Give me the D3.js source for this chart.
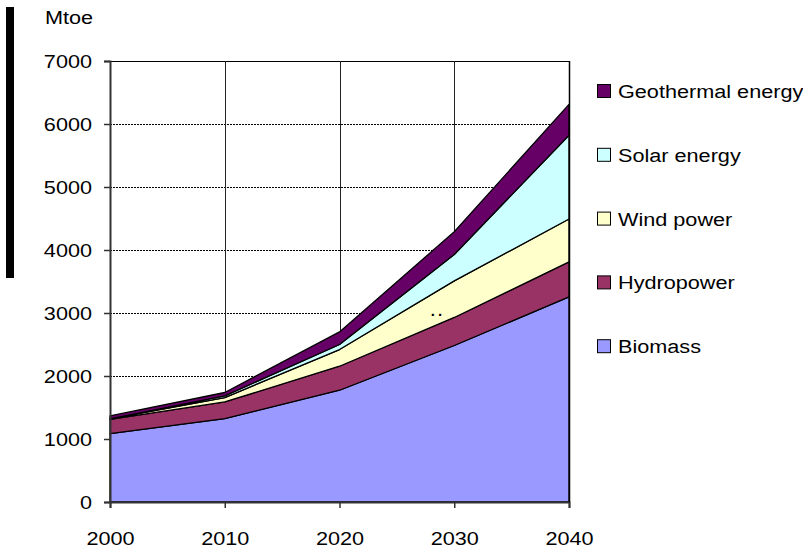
<!DOCTYPE html>
<html><head><meta charset="utf-8">
<script src="https://cdn.jsdelivr.net/npm/d3@7"></script>
<style>
body{margin:0;background:#fff;}
text{font-family:"Liberation Sans",Arial,sans-serif;fill:#000;}
.sx{transform-box:fill-box;}
</style></head>
<body><svg id="c" width="803" height="550"></svg>
<script>
const years = [2000, 2010, 2020, 2030, 2040];
const biomass = [1085, 1324, 1774, 2484, 3256];
const hydropower = [225, 264, 381, 445, 556];
const windPower = [10, 70, 265, 581, 680];
const solarEnergy = [1, 26, 80, 419, 1330];
const geothermalEnergy = [45, 54, 200, 360, 490];
const seriesNames = ["Biomass", "Hydropower", "Wind power", "Solar energy", "Geothermal energy"];
const seriesColors = ["#9999FF", "#993366", "#FFFFCC", "#CCFFFF", "#660066"];
const yTicks = [0, 1000, 2000, 3000, 4000, 5000, 6000, 7000];
const unitLabel = "Mtoe";

const svg = d3.select("#c");
const L = 110, R = 569, T = 61, B = 502;
const SX = 1.14, FS = 19;

const x = d3.scaleLinear().domain([2000, 2040]).range([L, R]);
const y = d3.scaleLinear().domain([0, 7000]).range([B, T]);

const seriesVals = [biomass, hydropower, windPower, solarEnergy, geothermalEnergy];
const table = years.map((yr, i) => {
  const o = {year: yr};
  seriesNames.forEach((n, k) => o[n] = seriesVals[k][i]);
  return o;
});
const stacked = d3.stack().keys(seriesNames)(table);

// black bar on left
svg.append("rect").attr("x", 6).attr("y", 7).attr("width", 8).attr("height", 271).attr("fill", "#000");

// gridlines horizontal dotted
svg.append("g").selectAll("line").data(yTicks.filter(v => v > 0 && v < 7000)).join("line")
  .attr("x1", L).attr("x2", R).attr("y1", d => y(d) + 0.5).attr("y2", d => y(d) + 0.5)
  .attr("stroke", "#000").attr("stroke-width", 1).attr("stroke-dasharray", "2,1");
// top border
svg.append("line").attr("x1", L).attr("x2", R).attr("y1", y(7000) + 0.5).attr("y2", y(7000) + 0.5)
  .attr("stroke", "#000").attr("stroke-width", 1);
// vertical gridlines
svg.append("g").selectAll("line").data(years.slice(1)).join("line")
  .attr("x1", d => Math.round(x(d)) + 0.5).attr("x2", d => Math.round(x(d)) + 0.5)
  .attr("y1", T).attr("y2", B).attr("stroke", "#222").attr("stroke-width", 1);

// areas
const area = d3.area().x(d => x(d.data.year)).y0(d => y(d[0])).y1(d => y(d[1]));
svg.append("g").selectAll("path").data(stacked).join("path")
  .attr("d", area).attr("fill", (d, i) => seriesColors[i])
  .attr("stroke", "#000").attr("stroke-width", 1.3).attr("stroke-linejoin", "round");

// small ".." label
svg.append("text").attr("x", 438).attr("y", 316).attr("text-anchor", "middle")
  .style("font-size", "15px").style("font-weight", "bold").style("letter-spacing", "3px").text("..");

// axes
const yAxis = svg.append("g").attr("transform", `translate(${L},0)`)
  .call(d3.axisLeft(y).tickValues(yTicks).tickSize(6).tickPadding(12).tickFormat(d3.format("d")));
const xAxis = svg.append("g").attr("transform", `translate(0,${B})`)
  .call(d3.axisBottom(x).tickValues(years).tickSize(6).tickPadding(24).tickFormat(d3.format("d")));
[yAxis, xAxis].forEach(g => {
  g.select(".domain").attr("stroke", "#333").attr("stroke-width", 2);
  g.selectAll(".tick line").attr("stroke", "#333").attr("stroke-width", 1.5);
  g.selectAll("text").style("font-size", FS + "px").attr("fill", "#000")
    .style("font-family", '"Liberation Sans",Arial,sans-serif');
});
yAxis.selectAll("text").attr("class", "sx").style("transform-origin", "right center").style("transform", `scaleX(${SX})`);
xAxis.selectAll("text").attr("class", "sx").style("transform-origin", "center").style("transform", `scaleX(${SX})`);
// right border
svg.append("line").attr("x1", R + 0.5).attr("x2", R + 0.5).attr("y1", T).attr("y2", B)
  .attr("stroke", "#000").attr("stroke-width", 1.5);

// unit label
svg.append("text").attr("x", 45).attr("y", 24).attr("class", "sx")
  .style("transform-origin", "left center").style("transform", `scaleX(${SX})`)
  .style("font-size", FS + "px").text(unitLabel);

// legend (top to bottom: reverse order)
const legOrder = seriesNames.map((n, i) => i).reverse();
const lg = svg.append("g").selectAll("g").data(legOrder).join("g")
  .attr("transform", (d, j) => `translate(597,${91 + j * 63.8})`);
lg.append("rect").attr("x", 0.5).attr("y", -6.5).attr("width", 13).attr("height", 13)
  .attr("fill", d => seriesColors[d]).attr("stroke", "#000").attr("stroke-width", 1);
lg.append("text").attr("x", 21).attr("y", 7).attr("class", "sx")
  .style("transform-origin", "left center").style("transform", `scaleX(${SX})`)
  .style("font-size", FS + "px").text(d => seriesNames[d]);
</script></body></html>
